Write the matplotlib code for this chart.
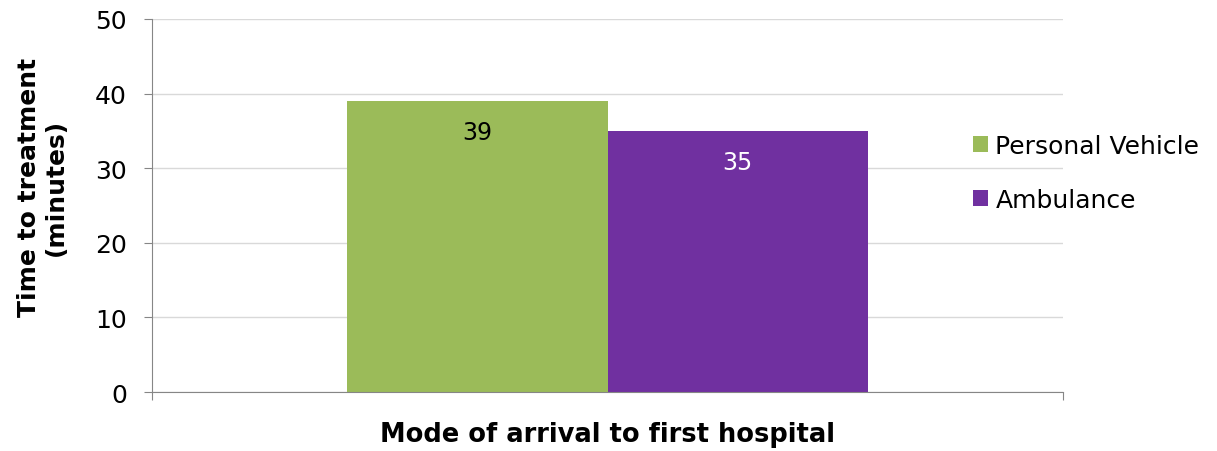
import numpy as np
import matplotlib.pyplot as plt

# data
categories = ['Mode of arrival to first hospital']
series_names = ['Personal Vehicle', 'Ambulance']
series_values = [39, 35]
series_colors = ['#9BBB59', '#7030A0']
label_colors = ['black', 'white']

plt.rcParams['font.family'] = ['DejaVu Sans']

fig = plt.figure(figsize=(12.17, 4.52), dpi=100)
ax = fig.add_axes([0.1249, 0.1305, 0.7486, 0.8253])

width = 0.286
offsets = [-width / 2, width / 2]
for name, val, col, lcol, off in zip(series_names, series_values, series_colors, label_colors, offsets):
    bars = ax.bar(np.arange(len(categories)) + off, [val], width=width, color=col, label=name, zorder=2)
    for b in bars:
        ax.text(b.get_x() + b.get_width() / 2, b.get_height() - 4.2, str(val),
                ha='center', va='center', fontsize=17, color=lcol, zorder=3)

ax.set_xlim(-0.5, 0.5)
ax.set_ylim(0, 50)
ax.set_yticks(range(0, 51, 10))
ax.set_xticks([-0.5, 0.5])
ax.set_xticklabels(['', ''])
ax.grid(axis='y', color='#d9d9d9', linewidth=1, zorder=0)
for s in ['top', 'right']:
    ax.spines[s].set_visible(False)
ax.spines['left'].set_color('#868686')
ax.spines['bottom'].set_color('#868686')
ax.tick_params(axis='y', length=6, color='#868686', labelsize=18, pad=12)
ax.tick_params(axis='x', length=6, color='#868686')

ax.set_ylabel('Time to treatment\n(minutes)', fontsize=18, fontweight='bold', linespacing=1.15)
ax.yaxis.set_label_coords(-0.0922, 0.552)
ax.set_xlabel(categories[0], fontsize=18.5, fontweight='bold')
ax.xaxis.set_label_coords(0.5, -0.078)

ax.legend(loc='center left', bbox_to_anchor=(0.901, 0.587), frameon=False, fontsize=18,
          borderpad=0, borderaxespad=0,
          handlelength=0.6, handleheight=0.6, handletextpad=0.3, labelspacing=1.2)

fig.savefig('out.png', dpi=100)
